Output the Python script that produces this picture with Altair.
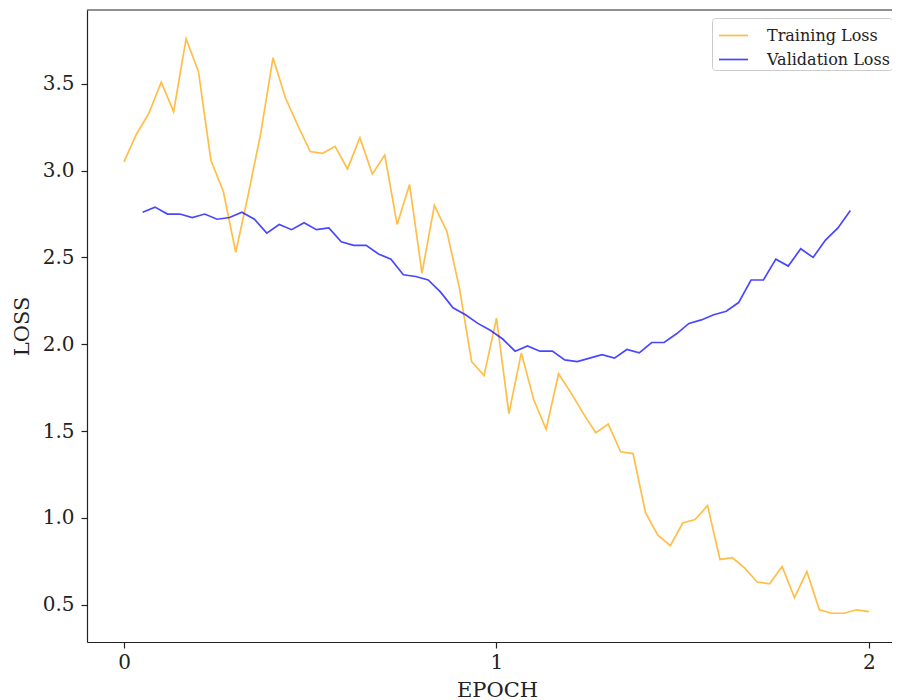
import altair as alt
import pandas as pd

# ---- data ----
train_loss = [3.05, 3.21, 3.33, 3.51, 3.34, 3.76, 3.57, 3.06, 2.88, 2.53,
              2.86, 3.21, 3.65, 3.42, 3.26, 3.11, 3.10, 3.14, 3.01, 3.19,
              2.98, 3.09, 2.69, 2.92, 2.41, 2.80, 2.65, 2.33, 1.90, 1.82,
              2.15, 1.60, 1.95, 1.68, 1.51, 1.83, 1.72, 1.60, 1.49, 1.54,
              1.38, 1.37, 1.03, 0.90, 0.84, 0.97, 0.99, 1.07, 0.76, 0.77,
              0.71, 0.63, 0.62, 0.72, 0.54, 0.69, 0.47, 0.45, 0.45, 0.47,
              0.46]
val_loss = [2.76, 2.79, 2.75, 2.75, 2.73, 2.75, 2.72, 2.73, 2.76, 2.72,
            2.64, 2.69, 2.66, 2.70, 2.66, 2.67, 2.59, 2.57, 2.57, 2.52,
            2.49, 2.40, 2.39, 2.37, 2.30, 2.21, 2.17, 2.12, 2.08, 2.03,
            1.96, 1.99, 1.96, 1.96, 1.91, 1.90, 1.92, 1.94, 1.92, 1.97,
            1.95, 2.01, 2.01, 2.06, 2.12, 2.14, 2.17, 2.19, 2.24, 2.37,
            2.37, 2.49, 2.45, 2.55, 2.50, 2.60, 2.67, 2.77]
# evaluation points: 30 per epoch; validation offset by 0.05 epoch
train_epoch = [round(i / 30, 4) for i in range(len(train_loss))]
val_epoch = [round(0.05 + i / 30, 4) for i in range(len(val_loss))]

series_names = ["Training Loss", "Validation Loss"]
series_colors = ["orange", "blue"]
x_ticks = [0, 1, 2]
y_ticks = [0.5, 1.0, 1.5, 2.0, 2.5, 3.0, 3.5]

df = pd.concat([
    pd.DataFrame({"epoch": train_epoch, "loss": train_loss, "series": series_names[0]}),
    pd.DataFrame({"epoch": val_epoch, "loss": val_loss, "series": series_names[1]}),
], ignore_index=True)

FONT = "DejaVu Serif"
INK = "#222222"
W, H = 805, 632

lines = alt.Chart(df).mark_line(strokeWidth=1.7, opacity=0.72).encode(
    x=alt.X("epoch:Q",
            scale=alt.Scale(domain=[-0.0993, 2.0618], nice=False, zero=False),
            axis=alt.Axis(values=x_ticks, format="d", title="EPOCH",
                          labelPadding=4, titleX=410, titleY=54,
                          titleBaseline="alphabetic", titleAlign="center")),
    y=alt.Y("loss:Q",
            scale=alt.Scale(domain=[0.2845, 3.9255], nice=False, zero=False),
            axis=alt.Axis(values=y_ticks, format=".1f", title="LOSS",
                          labelPadding=7, titleX=-65, titleY=316,
                          titleAngle=270, titleAlign="center",
                          titleBaseline="middle")),
    color=alt.Color("series:N",
                    scale=alt.Scale(domain=series_names, range=series_colors),
                    legend=alt.Legend(orient="none", legendX=625, legendY=8,
                                      title=None, labelFont=FONT,
                                      labelFontSize=16, labelColor=INK,
                                      symbolType="stroke", symbolSize=841,
                                      symbolStrokeWidth=1.7,
                                      symbolOpacity=0.72, symbolOffset=4,
                                      labelOffset=18,
                                      strokeColor="#cccccc", fillColor="white",
                                      padding=2, cornerRadius=3,
                                      rowPadding=-6)),
)

top_spine = alt.Chart(pd.DataFrame({"k": [0]})).mark_rule(
    color=INK, strokeWidth=1.2
).encode(x=alt.value(0), x2=alt.value(W), y=alt.value(0))

chart = alt.layer(lines, top_spine).properties(
    width=W, height=H,
    padding={"left": 79, "top": 2, "right": 0, "bottom": 58},
    autosize=alt.AutoSizeParams(type="none"),
).configure_view(stroke=None).configure_axis(
    grid=False, domainColor=INK, domainWidth=1.2, tickColor=INK,
    tickWidth=1.2, tickSize=6, labelFont=FONT, labelFontSize=20,
    labelColor=INK, titleFont=FONT, titleFontSize=21, titleColor=INK,
    titleFontWeight="normal",
)

chart.save("out.html", embed_options={"renderer": "svg", "actions": False})
